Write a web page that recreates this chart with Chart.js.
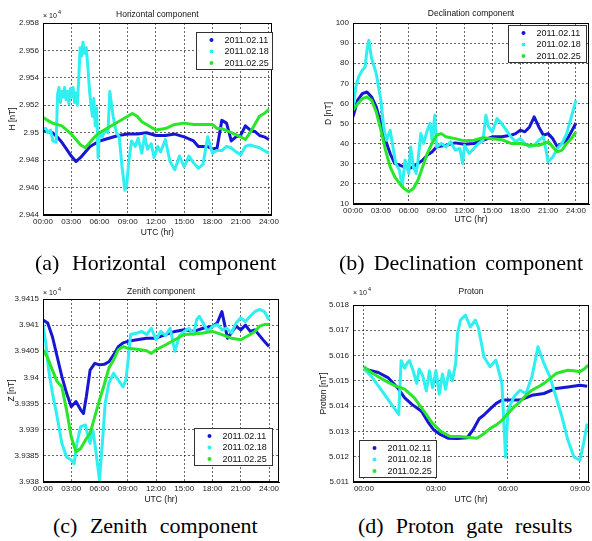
<!DOCTYPE html>
<html>
<head>
<meta charset="utf-8">
<script src="https://cdn.jsdelivr.net/npm/chart.js@4.4.0/dist/chart.umd.min.js"></script>
<style>
  body { margin: 0; background: #fff; }
  #page { position: relative; width: 592px; height: 541px; overflow: hidden; background: #fff; }
  .panel { position: absolute; }
  .panel canvas { display: block; }
  .cap { position: absolute; font-family: "Liberation Serif", "Times New Roman", serif; font-size: 22px;
         line-height: 22px; white-space: nowrap; color: #000; }
</style>
</head>
<body>
<div id="page">
  <div class="panel" style="left:0px;top:0px"><canvas id="chartH" width="281" height="240"></canvas></div>
  <div class="panel" style="left:316px;top:0px"><canvas id="chartD" width="276" height="226"></canvas></div>
  <div class="panel" style="left:0px;top:272px"><canvas id="chartZ" width="285" height="234"></canvas></div>
  <div class="panel" style="left:316px;top:272px"><canvas id="chartP" width="276" height="234"></canvas></div>
  <div class="cap" style="left:35px;top:252px;word-spacing:7px">(a) Horizontal component</div>
  <div class="cap" style="left:339px;top:252px;word-spacing:3.5px">(b) Declination component</div>
  <div class="cap" style="left:53px;top:515px;word-spacing:7px">(c) Zenith component</div>
  <div class="cap" style="left:358px;top:515px;word-spacing:6.5px">(d) Proton gate results</div>
</div>

<script>
// legend names
const days = ['2011.02.11', '2011.02.18', '2011.02.25'];

// x ticks (hours UTC)
const dayTicks = [0, 3, 6, 9, 12, 15, 18, 21, 24];
const dayLabels = ['00:00', '03:00', '06:00', '09:00', '12:00', '15:00', '18:00', '21:00', '24:00'];

// ---- (a) Horizontal component, nT ----
const hTicks = [29440, 29460, 29480, 29500, 29520, 29540, 29560, 29580];
const hTickLabels = ['2.944', '2.946', '2.948', '2.95', '2.952', '2.954', '2.956', '2.958'];
const hBlueT = [0, 1, 1.5, 2, 2.5, 3, 3.5, 4, 4.5, 5, 5.5, 6, 7, 8, 9, 10, 11, 12, 13, 14, 15, 16, 16.5, 17, 17.5, 18, 18.5, 19, 19.5, 20, 20.5, 21, 21.5, 22, 22.5, 23, 23.5, 24];
const hBlue = [29502, 29500, 29497, 29493, 29488, 29483, 29479, 29482, 29486, 29490, 29492, 29494, 29496, 29498, 29499, 29499, 29500, 29498, 29498, 29499, 29497, 29494, 29490, 29490, 29490, 29488, 29489, 29509, 29507, 29494, 29497, 29498, 29505, 29502, 29501, 29498, 29497, 29495];
const hCyanT = [0, 0.3, 0.5, 0.8, 1.05, 1.4, 1.55, 1.7, 1.85, 2, 2.15, 2.3, 2.45, 2.6, 2.75, 2.9, 3.05, 3.2, 3.35, 3.5, 3.65, 3.8, 3.95, 4.1, 4.25, 4.4, 4.6, 4.8, 4.95, 5.1, 5.25, 5.4, 5.55, 5.7, 5.85, 6, 6.3, 6.6, 6.9, 7.1, 7.25, 7.45, 7.8, 8.1, 8.4, 8.7, 8.9, 9.1, 9.4, 9.8, 10.1, 10.5, 10.8, 11.1, 11.5, 11.8, 12.2, 12.5, 13, 13.3, 13.5, 14, 14.5, 15, 15.5, 16, 16.5, 17, 17.5, 18, 18.5, 19, 19.5, 20, 20.5, 21, 21.5, 22, 22.5, 23, 23.5, 24];
const hCyan = [29503, 29503, 29500, 29502, 29494, 29493, 29528, 29533, 29522, 29530, 29526, 29533, 29524, 29530, 29521, 29532, 29526, 29533, 29522, 29529, 29520, 29540, 29562, 29556, 29566, 29558, 29562, 29545, 29530, 29520, 29512, 29525, 29505, 29518, 29482, 29500, 29497, 29502, 29500, 29530, 29522, 29512, 29500, 29497, 29475, 29458, 29462, 29478, 29494, 29490, 29496, 29485, 29498, 29488, 29492, 29482, 29490, 29486, 29495, 29485, 29479, 29473, 29483, 29475, 29483, 29478, 29474, 29477, 29497, 29485, 29487, 29487, 29490, 29489, 29486, 29484, 29490, 29491, 29490, 29489, 29487, 29485];
const hGreenT = [0, 1, 2, 2.5, 3, 3.5, 4, 4.5, 5, 5.5, 6, 7, 8, 9, 9.5, 10, 10.5, 11, 11.5, 12, 13, 14, 15, 16, 17, 18, 18.5, 19, 20, 21, 21.5, 22, 22.5, 23, 23.5, 24];
const hGreen = [29511, 29507, 29505, 29502, 29499, 29495, 29491, 29489, 29493, 29497, 29500, 29504, 29508, 29512, 29514, 29512, 29508, 29506, 29504, 29502, 29503, 29506, 29507, 29506, 29506, 29506, 29503, 29503, 29500, 29497, 29495, 29500, 29506, 29512, 29514, 29517];

// ---- (b) Declination component, nT ----
const dTicks = [10, 20, 30, 40, 50, 60, 70, 80, 90, 100];
const dTickLabels = ['10', '20', '30', '40', '50', '60', '70', '80', '90', '100'];
const dBlueT = [0, 0.5, 1, 1.5, 2, 2.5, 3, 3.5, 4, 4.5, 5, 5.5, 6, 6.5, 7, 7.5, 8, 8.5, 9, 10, 11, 12, 13, 14, 15, 16, 17, 17.5, 18, 18.5, 19, 19.5, 20, 20.5, 21, 21.5, 22, 22.5, 23, 23.5, 24];
const dBlue = [53.3, 61.6, 64.9, 65.7, 63.2, 58.3, 50, 41.7, 35.1, 30.1, 29.3, 28.5, 27.6, 28.5, 30.1, 31.8, 34.3, 35.9, 38.4, 39.2, 40.4, 39.7, 40.1, 41.7, 43.4, 43.4, 44.2, 45, 46.7, 45.9, 48.3, 53.3, 48.3, 44.2, 45, 42.5, 38.4, 40.1, 41.7, 45.9, 50.3];
const dCyanT = [0, 0.3, 0.6, 1, 1.3, 1.5, 1.7, 2, 2.3, 2.5, 3, 3.3, 3.6, 4, 4.3, 4.6, 5, 5.3, 5.6, 6, 6.2, 6.5, 6.8, 7, 7.3, 7.6, 8, 8.3, 8.5, 8.8, 9, 9.5, 10, 10.5, 11, 11.5, 11.8, 12, 12.5, 13, 13.5, 14, 14.3, 14.6, 15, 15.5, 16, 16.5, 17, 17.5, 18, 18.5, 19, 19.5, 20, 20.5, 21, 21.5, 22, 22.5, 23, 23.5, 24];
const dCyan = [58.3, 68.2, 73.2, 76.5, 78.1, 86.4, 91.4, 82.3, 78, 74.8, 61.6, 48.3, 41.7, 46.7, 38.4, 30.1, 26.8, 18.5, 31.8, 25.2, 38.4, 28.5, 25.2, 31.8, 45, 40.1, 46.7, 50, 41.7, 54.1, 38.4, 40.1, 38.4, 40.9, 36.8, 37.6, 30.1, 39.2, 35.1, 37.6, 40.1, 41.7, 54.1, 48.3, 45.9, 52.5, 50, 46.7, 43.4, 40.9, 42.5, 40.1, 38.4, 39.2, 41.7, 43.4, 31, 33.4, 37.6, 40.1, 45, 53.3, 61.6];
const dGreenT = [0, 0.5, 1, 1.5, 2, 2.5, 3, 3.5, 4, 4.5, 5, 5.5, 6, 6.5, 7, 7.5, 8, 8.5, 9, 9.5, 10, 11, 12, 13, 14, 15, 16, 17, 18, 19, 20, 21, 21.5, 22, 22.5, 23, 23.5, 24];
const dGreen = [56.6, 59.9, 62.4, 63.2, 61.6, 55.8, 46.7, 36.8, 28.5, 23.5, 20.2, 17.7, 16.1, 17.7, 21.9, 28.5, 35.1, 40.1, 44.2, 45, 43.4, 42.5, 41.4, 41.7, 43, 42.5, 42, 40.1, 40.1, 39.2, 39.2, 40.9, 38.4, 35.9, 36.8, 40.1, 42.5, 45.9];

// ---- (c) Zenith component, nT ----
const zTicks = [39380, 39385, 39390, 39395, 39400, 39405, 39410, 39415];
const zTickLabels = ['3.938', '3.9385', '3.939', '3.9395', '3.94', '3.9405', '3.941', '3.9415'];
const zBlueT = [0, 0.5, 1, 1.5, 2, 2.5, 3, 3.5, 4, 4.3, 4.6, 5, 5.5, 6, 6.5, 7, 7.5, 8, 8.5, 9, 10, 11, 12, 13, 14, 15, 16, 17, 18, 18.5, 19, 19.3, 19.6, 20, 20.5, 21, 21.5, 22, 22.5, 23, 23.5, 24];
const zBlue = [39411, 39410.4, 39407.8, 39404, 39400.2, 39397, 39394.4, 39395.4, 39393.8, 39393.1, 39396.3, 39401.4, 39402.7, 39402.4, 39402.5, 39403, 39404.3, 39405.9, 39406.6, 39406.9, 39407.2, 39407.5, 39407.5, 39408.2, 39408.8, 39409.1, 39408.8, 39409.4, 39409.8, 39410.4, 39412.6, 39410, 39407.5, 39408.5, 39409.8, 39409.1, 39410, 39408.8, 39409.1, 39408, 39406.9, 39405.9];
const zCyanT = [0, 0.3, 0.6, 1, 1.5, 2, 2.5, 3, 3.3, 3.6, 4, 4.5, 5, 5.3, 5.6, 6, 6.3, 6.6, 7, 7.5, 8, 8.5, 8.8, 9, 9.3, 10, 10.5, 11, 11.5, 12, 12.5, 13, 13.5, 14, 14.5, 15, 15.5, 16, 16.3, 16.6, 17, 17.5, 18, 18.5, 19, 19.5, 20, 20.5, 21, 21.5, 22, 22.5, 23, 23.5, 24];
const zCyan = [39410.1, 39406.6, 39401.4, 39397, 39392.5, 39387.4, 39384.8, 39384.2, 39383.5, 39387.4, 39390.6, 39390.9, 39387.4, 39389.9, 39386.1, 39380.3, 39387.4, 39395, 39398.9, 39400.8, 39399.5, 39398.2, 39399.5, 39402.7, 39408.2, 39408.5, 39408.8, 39408.2, 39409.4, 39407.2, 39408.8, 39408, 39409.4, 39405, 39408, 39408.8, 39409.4, 39408.2, 39411, 39411.7, 39410.4, 39408.8, 39409.8, 39410.1, 39409.1, 39409.4, 39408.5, 39410.4, 39411.4, 39410.7, 39411.7, 39412.6, 39413, 39412.6, 39411];
const zGreenT = [0, 0.5, 1, 1.5, 2, 2.5, 3, 3.5, 4, 4.5, 5, 5.5, 6, 6.5, 7, 7.5, 8, 8.5, 9, 10, 11, 11.5, 12, 13, 14, 15, 16, 17, 18, 19, 20, 21, 22, 22.5, 23, 23.5, 24];
const zGreen = [39405.3, 39403.7, 39401.4, 39399.2, 39398.2, 39393.8, 39388.6, 39385.8, 39386.4, 39388, 39389.3, 39392.5, 39395.7, 39398.6, 39401.8, 39403.4, 39405.3, 39405.9, 39405.6, 39405.4, 39405.1, 39404.6, 39405.3, 39406.2, 39407.2, 39408.2, 39408.3, 39408.5, 39408.8, 39408.2, 39407.5, 39407.2, 39408.2, 39408.8, 39409.8, 39410.1, 39410.1];

// ---- (d) Proton, nT ----
const pHourTicks = [0, 3, 6, 9];
const pHourLabels = ['00:00', '03:00', '06:00', '09:00'];
const pTicks = [50110, 50120, 50130, 50140, 50150, 50160, 50170, 50180];
const pTickLabels = ['5.011', '5.012', '5.013', '5.014', '5.015', '5.016', '5.017', '5.018'];
const pBlueT = [0, 0.3, 0.6, 1, 1.4, 1.7, 2, 2.4, 2.65, 2.9, 3.2, 3.5, 3.9, 4.3, 4.55, 4.8, 5, 5.25, 5.5, 5.75, 6, 6.5, 7, 7.5, 8, 8.5, 9, 9.3];
const pBlue = [50154.7, 50154, 50153.3, 50151.3, 50147.3, 50143.3, 50140.7, 50138, 50134, 50130.7, 50128.7, 50127.3, 50127.2, 50127.5, 50130.7, 50135, 50136.5, 50138.8, 50141, 50142.4, 50142.4, 50142.4, 50144.3, 50145, 50147, 50147.6, 50148.3, 50147.9];
const pCyanT = [0, 0.35, 0.75, 1.15, 1.45, 1.55, 1.7, 1.8, 1.9, 2.05, 2.2, 2.3, 2.45, 2.6, 2.73, 2.86, 3, 3.14, 3.27, 3.4, 3.55, 3.68, 3.82, 3.9, 4.02, 4.23, 4.43, 4.64, 4.77, 5, 5.25, 5.5, 5.75, 5.9, 6, 6.25, 6.5, 6.75, 7, 7.25, 7.5, 7.75, 8, 8.25, 8.5, 8.75, 9, 9.15, 9.3];
const pCyan = [50154.7, 50151.3, 50146, 50140.7, 50136.7, 50158, 50155, 50157, 50158, 50154, 50149, 50154.7, 50152, 50146, 50154, 50147.3, 50154, 50144.7, 50152.7, 50146.7, 50154, 50150, 50156.7, 50168.7, 50174, 50176, 50171.3, 50174, 50171, 50159.5, 50155.6, 50158.2, 50149, 50119.9, 50138.4, 50143.7, 50146.3, 50145, 50151.6, 50163.5, 50156.9, 50151.6, 50143.7, 50135.8, 50126.5, 50119.9, 50118.6, 50125.2, 50133.1];
const pGreenT = [0, 0.3, 0.9, 1.3, 1.7, 2.1, 2.5, 2.85, 3.2, 3.6, 4, 4.4, 4.7, 5, 5.25, 5.5, 5.75, 6, 6.25, 6.5, 6.75, 7, 7.25, 7.5, 7.75, 8, 8.25, 8.5, 8.75, 9, 9.2, 9.35];
const pGreen = [50155.6, 50153.3, 50150, 50148, 50146.7, 50143.3, 50138, 50133.3, 50130, 50128, 50128, 50127.6, 50127.3, 50129.1, 50131.1, 50132.5, 50134.4, 50137.1, 50139.7, 50141.7, 50144.3, 50146.3, 50147.6, 50149, 50150.9, 50152.9, 50153.6, 50154.2, 50154, 50153.6, 50154.9, 50156.2];

const BLUE = '#1616d4';
const CYAN = '#2ef0f0';
const GREEN = '#28e628';
const FONT = '"Liberation Sans", Arial, sans-serif';

function pts(ts, vs) {
  return ts.map((t, i) => ({ x: t, y: vs[i] }));
}

// title, x10^4 note, closed axes box and matlab style legend
const panelDecor = {
  id: 'panelDecor',
  afterDraw(chart, args, o) {
    const { ctx, chartArea: a } = chart;
    ctx.save();
    ctx.strokeStyle = '#000';
    ctx.lineWidth = 1;
    ctx.strokeRect(Math.round(a.left) + 0.5, Math.round(a.top) + 0.5, Math.round(a.width) - 1, Math.round(a.height) - 1);

    ctx.fillStyle = '#111';
    ctx.font = '8.5px ' + FONT;
    ctx.textAlign = 'center';
    ctx.textBaseline = 'middle';
    ctx.fillText(o.title, (a.left + a.right) / 2, a.top - o.titleGap);

    if (o.expGap) {
      ctx.textAlign = 'left';
      ctx.textBaseline = 'alphabetic';
      ctx.font = '7px ' + FONT;
      ctx.fillText('\u00d7 10', a.left, a.top - o.expGap);
      ctx.font = '5.5px ' + FONT;
      ctx.fillText('4', a.left + 15, a.top - o.expGap - 4);
    }

    const lg = o.legend;
    ctx.fillStyle = '#fff';
    ctx.fillRect(lg.x, lg.y, lg.w, 37);
    ctx.strokeStyle = '#333';
    ctx.strokeRect(lg.x + 0.5, lg.y + 0.5, lg.w, 37);
    ctx.font = '9px ' + FONT;
    ctx.textAlign = 'left';
    ctx.textBaseline = 'middle';
    chart.data.datasets.forEach((ds, i) => {
      const y = lg.y + 8 + i * 11.5;
      ctx.fillStyle = ds.borderColor;
      ctx.beginPath();
      ctx.arc(lg.x + 15.5, y, 2, 0, Math.PI * 2);
      ctx.fill();
      ctx.fillStyle = '#111';
      ctx.fillText(ds.label, lg.x + 28.5, y + 0.5);
    });
    ctx.restore();
  }
};

function makePanel(id, p) {
  const line = (label, color, data, order) => ({
    label, data, borderColor: color, backgroundColor: color, borderWidth: 3,
    pointRadius: 0, tension: 0, order, borderJoinStyle: 'round'
  });
  const grid = { color: 'rgba(0,0,0,0.6)', lineWidth: 1, drawTicks: false };
  const border = { color: '#000', width: 1, dash: [2, 2] };
  new Chart(document.getElementById(id), {
    type: 'line',
    data: {
      datasets: [
        line(days[0], BLUE, p.blue, 3),
        line(days[1], CYAN, p.cyan, 2),
        line(days[2], GREEN, p.green, 1)
      ]
    },
    options: {
      responsive: false,
      animation: false,
      events: [],
      layout: { padding: { left: 0, top: p.T, right: p.R, bottom: 0 } },
      plugins: {
        legend: { display: false },
        tooltip: { enabled: false },
        panelDecor: { title: p.title, titleGap: p.titleGap, expGap: p.expGap, legend: p.legend }
      },
      scales: {
        x: {
          type: 'linear', min: p.xMin, max: p.xMax,
          afterBuildTicks: s => { s.ticks = p.xTicks.map(v => ({ value: v })); },
          afterFit: s => { s.height = p.B; },
          ticks: {
            callback: v => p.xLabels[p.xTicks.indexOf(v)],
            font: { family: FONT, size: 8 }, color: '#222', padding: 2, maxRotation: 0, autoSkip: false
          },
          grid, border,
          title: { display: true, text: 'UTC (hr)', color: '#111', font: { family: FONT, size: 8.5 }, padding: { top: 0, bottom: p.xTitlePad } }
        },
        y: {
          min: p.yTicks[0], max: p.yTicks[p.yTicks.length - 1],
          afterBuildTicks: s => { s.ticks = p.yTicks.map(v => ({ value: v })); },
          afterFit: s => { s.width = p.L; },
          ticks: {
            callback: v => p.yLabels[p.yTicks.indexOf(v)],
            font: { family: FONT, size: 8 }, color: '#222', padding: 4, autoSkip: false
          },
          grid, border,
          title: { display: true, text: p.yTitle, color: '#111', font: { family: FONT, size: 8.5 }, padding: { top: p.yTitlePad, bottom: 0 } }
        }
      }
    },
    plugins: [panelDecor]
  });
}

makePanel('chartH', {
  blue: pts(hBlueT, hBlue), cyan: pts(hCyanT, hCyan), green: pts(hGreenT, hGreen),
  xMin: 0, xMax: 24.3, xTicks: dayTicks, xLabels: dayLabels,
  yTicks: hTicks, yLabels: hTickLabels, yTitle: 'H [nT]',
  L: 43, T: 23, R: 8, B: 25, xTitlePad: 1.9, yTitlePad: 8,
  title: 'Horizontal component', titleGap: 8, expGap: 5,
  legend: { x: 196, y: 32, w: 76 }
});

makePanel('chartD', {
  blue: pts(dBlueT, dBlue), cyan: pts(dCyanT, dCyan), green: pts(dGreenT, dGreen),
  xMin: 0, xMax: 25.4, xTicks: dayTicks, xLabels: dayLabels,
  yTicks: dTicks, yLabels: dTickLabels, yTitle: 'D [nT]',
  L: 37, T: 23, R: 3, B: 22, xTitlePad: 0.9, yTitlePad: 8,
  title: 'Declination component', titleGap: 9, expGap: 0,
  legend: { x: 192, y: 25, w: 78 }
});

makePanel('chartZ', {
  blue: pts(zBlueT, zBlue), cyan: pts(zCyanT, zCyan), green: pts(zGreenT, zGreen),
  xMin: 0, xMax: 25.06, xTicks: dayTicks, xLabels: dayLabels,
  yTicks: zTicks, yLabels: zTickLabels, yTitle: 'Z [nT]',
  L: 43, T: 27, R: 6, B: 24, xTitlePad: 0.9, yTitlePad: 7,
  title: 'Zenith component', titleGap: 7, expGap: 4,
  legend: { x: 194, y: 156, w: 78 }
});

makePanel('chartP', {
  blue: pts(pBlueT, pBlue), cyan: pts(pCyanT, pCyan), green: pts(pGreenT, pGreen),
  xMin: -0.455, xMax: 9.38, xTicks: pHourTicks, xLabels: pHourLabels,
  yTicks: pTicks, yLabels: pTickLabels, yTitle: 'Proton [nT]',
  L: 37, T: 33, R: 1, B: 24, xTitlePad: 0.9, yTitlePad: 3,
  title: 'Proton', titleGap: 13, expGap: 10,
  legend: { x: 43, y: 168, w: 77 }
});
</script>
</body>
</html>
